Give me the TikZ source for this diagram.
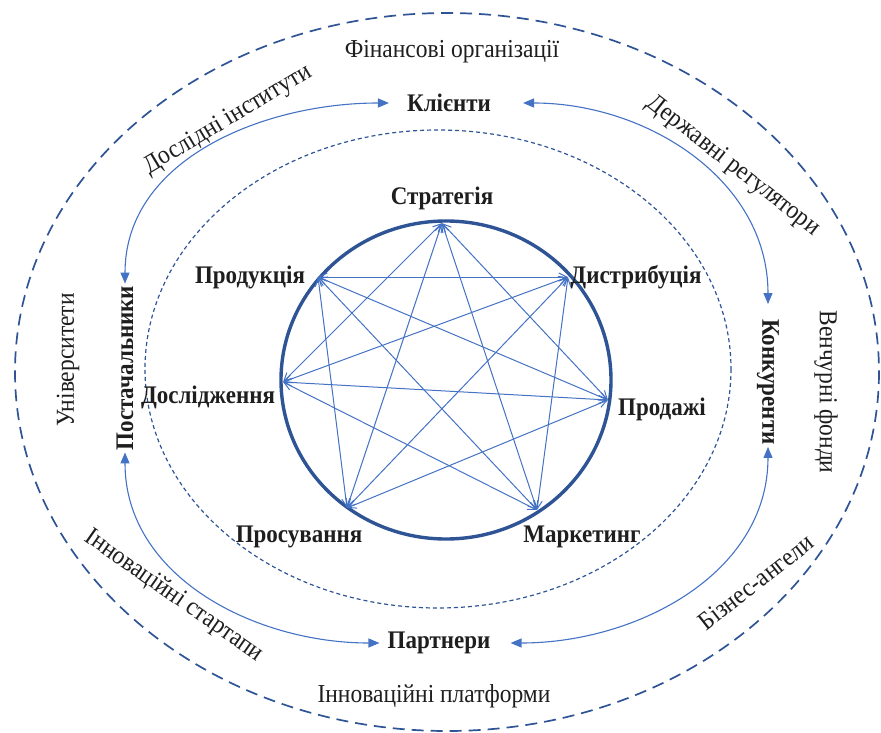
\documentclass[tikz,border=0pt]{standalone}
\usepackage{fontspec}
\setmainfont{Liberation Serif}
\usetikzlibrary{arrows.meta}
\definecolor{linkblue}{RGB}{68,114,196}
\definecolor{ringblue}{RGB}{46,84,150}
\definecolor{ink}{RGB}{30,30,30}
\tikzstyle{core}=[font=\fontsize{23}{26}\selectfont\bfseries, text=ink, inner sep=2pt, yscale=1.1]
\tikzstyle{outer}=[font=\fontsize{23.5}{26}\selectfont, text=ink, inner sep=2pt, yscale=1.1]
\tikzstyle{vertex}=[inner sep=0pt, minimum size=0pt]
\tikzset{starlink/.style={{Straight Barb[length=8pt,width=8pt]}-{Straight Barb[length=8pt,width=8pt]}, line width=1pt, color=linkblue}}
\tikzset{orbit/.style={{Triangle[length=11pt,width=9pt]}-{Triangle[length=11pt,width=9pt]}, line width=1.1pt, color=linkblue}}

\begin{document}
\begin{tikzpicture}[x=1pt,y=-1pt]
  \useasboundingbox (0,0) rectangle (881,733);

  %% Rings
  \draw[ringblue, line width=1.7pt, dash pattern=on 12pt off 7pt] (447,372) ellipse [x radius=432, y radius=359];
  \draw[ringblue, line width=1.2pt, dash pattern=on 4pt off 3pt] (438,369) ellipse [x radius=293, y radius=239];
  \draw[ringblue, line width=3.4pt] (446,380) ellipse [x radius=165, y radius=159];

  %% Core functions
  \draw (442,223) node[vertex] (Strat) {};
  \draw (568,277) node[vertex] (Dist) {};
  \draw (608,400) node[vertex] (Sales) {};
  \draw (537,510) node[vertex] (Mark) {};
  \draw (347,508) node[vertex] (Promo) {};
  \draw (283,382) node[vertex] (Res) {};
  \draw (318,277) node[vertex] (Prod) {};

  \draw (442,198) node[core] (StratL) {Стратегія};
  \draw (636,277) node[core] (DistL) {Дистрибуція};
  \draw (662,409) node[core] (SalesL) {Продажі};
  \draw (582,537) node[core] (MarkL) {Маркетинг};
  \draw (299,537) node[core] (PromoL) {Просування};
  \draw (208,397) node[core] (ResL) {Дослідження};
  \draw (250,277) node[core] (ProdL) {Продукція};

  \draw[starlink] (Strat) -- (Res);
  \draw[starlink] (Strat) -- (Promo);
  \draw[starlink] (Strat) -- (Mark);
  \draw[starlink] (Strat) -- (Sales);
  \draw[starlink] (Prod) -- (Dist);
  \draw[starlink] (Prod) -- (Sales);
  \draw[starlink] (Prod) -- (Mark);
  \draw[starlink] (Prod) -- (Promo);
  \draw[starlink] (Dist) -- (Res);
  \draw[starlink] (Dist) -- (Promo);
  \draw[starlink] (Dist) -- (Mark);
  \draw[starlink] (Sales) -- (Res);
  \draw[starlink] (Sales) -- (Promo);
  \draw[starlink] (Mark) -- (Res);

  %% Market actors
  \draw (449,103) node[core] (Klienty) {Клієнти};
  \draw (125,368) node[rotate=90,core] (Postach) {Постачальники};
  \draw (768,382) node[rotate=-90,core] (Konkur) {Конкуренти};
  \draw (439,643) node[core] (Partner) {Партнери};

  \draw[orbit] (Postach.east) to[out=90,in=180] ([xshift=-16pt]Klienty.west);
  \draw[orbit] ([xshift=30pt]Klienty.east) to[out=0,in=90] ([yshift=13pt]Konkur.west);
  \draw[orbit] (Postach.west) to[out=-90,in=180] ([xshift=-6pt]Partner.west);
  \draw[orbit] ([xshift=18pt]Partner.east) to[out=0,in=-90] (Konkur.east);

  %% Environment
  \draw (452,52) node[outer] (Fin) {Фінансові організації};
  \draw (228,120) node[rotate=31,outer] (Inst) {Дослідні інститути};
  \draw (733,166) node[rotate=-38,outer] (Reg) {Державні регулятори};
  \draw (68,360) node[rotate=90,outer] (Univ) {Університети};
  \draw (826,392) node[rotate=-90,outer] (Vent) {Венчурні фонди};
  \draw (174,596) node[rotate=-35,outer] (Start) {Інноваційні стартапи};
  \draw (756,582) node[rotate=38,outer] (Angel) {Бізнес-ангели};
  \draw (434,696) node[outer] (Plat) {Інноваційні платформи};
\end{tikzpicture}
\end{document}
